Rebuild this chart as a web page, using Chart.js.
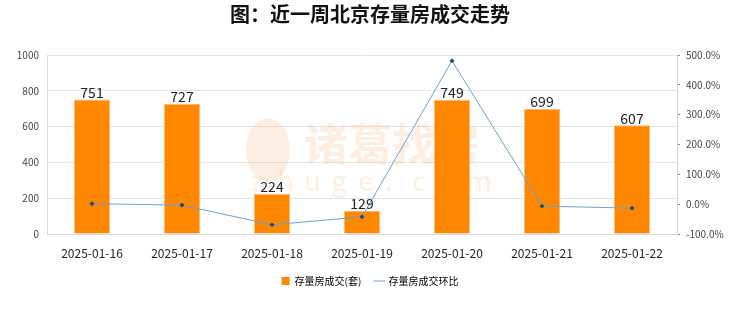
<!DOCTYPE html>
<html><head><meta charset="utf-8">
<script src="https://cdn.jsdelivr.net/npm/chart.js@4"></script>
<style>html,body{margin:0;padding:0;background:#fff}#wrap{width:740px;height:312px}</style>
</head><body><div id="wrap"><canvas id="c" width="740" height="312"></canvas></div>
<script>
const categories = ['2025-01-16','2025-01-17','2025-01-18','2025-01-19','2025-01-20','2025-01-21','2025-01-22'];
const volumes = [751, 727, 224, 129, 749, 699, 607];
const ringRatio = [1.5, -3.2, -69.2, -42.4, 480.6, -6.7, -13.2];
const leftTicks = [0, 200, 400, 600, 800, 1000];
const rightTicks = [-100, 0, 100, 200, 300, 400, 500];
const titleText = '图：近一周北京存量房成交走势';
const seriesNames = ['存量房成交(套)', '存量房成交环比'];

const FONT = '"Noto Sans CJK SC", "Noto Sans", sans-serif';

const watermark = {
  id: 'watermark',
  beforeDatasetsDraw(chart) {
    const ctx = chart.ctx;
    ctx.save();
    ctx.fillStyle = 'rgba(245,170,120,0.2)';
    ctx.font = 'bold 44px ' + FONT;
    ctx.textBaseline = 'middle';
    ctx.textAlign = 'left';
    ctx.fillText('诸葛找房', 304, 144);
    ctx.font = '28px ' + FONT;
    const letters = 'zhuge.com'.split('');
    letters.forEach((l, i) => ctx.fillText(l, 250 + i * 27, 180));
    ctx.beginPath();
    ctx.ellipse(268, 150, 22, 32, 0, 0, Math.PI * 2);
    ctx.fill();
    ctx.restore();
  }
};

const barLabels = {
  id: 'barLabels',
  afterDatasetsDraw(chart) {
    const ctx = chart.ctx;
    const meta = chart.getDatasetMeta(1);
    ctx.save();
    ctx.fillStyle = '#222';
    ctx.font = '14px ' + FONT;
    ctx.textAlign = 'center';
    ctx.textBaseline = 'bottom';
    meta.data.forEach((bar, i) => {
      ctx.fillText(String(volumes[i]), bar.x, bar.y);
    });
    ctx.restore();
  }
};

new Chart(document.getElementById('c'), {
  data: {
    labels: categories,
    datasets: [
      {
        type: 'line', label: seriesNames[1], data: ringRatio, yAxisID: 'y1',
        borderColor: '#6f9fcf', borderWidth: 1, backgroundColor: '#1f4e79',
        pointRadius: 2, pointStyle: 'rectRot', pointBackgroundColor: '#1f4e79', pointBorderColor: '#1f4e79',
        tension: 0, order: 0
      },
      {
        type: 'bar', label: seriesNames[0], data: volumes, yAxisID: 'y',
        backgroundColor: '#ff8800', borderColor: '#ffb870', borderWidth: {top: 1, left: 1, right: 1, bottom: 0},
        barPercentage: 0.4, categoryPercentage: 1.0, order: 1
      }
    ]
  },
  options: {
    responsive: false, animation: false,
    layout: { padding: { left: 0, right: 0, top: 0, bottom: 16 } },
    plugins: {
      title: { display: true, text: titleText, font: { family: FONT, size: 20, weight: 'bold' }, color: '#111', padding: { top: 2, bottom: 29 } },
      legend: {
        position: 'bottom',
        labels: {
          font: { family: FONT, size: 10 }, color: '#222', boxWidth: 8, boxHeight: 8, padding: 14,
          usePointStyle: true,
          generateLabels(chart) {
            return [
              { text: seriesNames[0], fillStyle: '#ff8800', strokeStyle: '#ff8800', lineWidth: 0, pointStyle: 'rect', datasetIndex: 1 },
              { text: seriesNames[1], fillStyle: '#1f4e79', strokeStyle: '#6f9fcf', lineWidth: 1, pointStyle: 'line', datasetIndex: 0 }
            ];
          }
        }
      },
      tooltip: { enabled: false }
    },
    scales: {
      x: {
        grid: { display: false },
        border: { color: '#d9d9d9' },
        ticks: { font: { family: FONT, size: 12 }, color: '#222', padding: 4, maxRotation: 0 },
        afterFit(s) { s.height = 28; }
      },
      y: {
        position: 'left', min: 0, max: 1000,
        afterBuildTicks(s) { s.ticks = leftTicks.map(v => ({ value: v })); },
        grid: { color: '#e4e4e4', drawTicks: false },
        border: { color: '#d9d9d9' },
        ticks: { font: { family: FONT, size: 10 }, color: '#444', padding: 8, callback(v) { return String(v); } },
        afterFit(s) { s.width = 47; }
      },
      y1: {
        position: 'right', min: -100, max: 500,
        afterBuildTicks(s) { const t = []; for (let v = -100; v <= 500; v += 50) t.push({ value: v }); s.ticks = t; },
        grid: { drawOnChartArea: false, color: '#888', tickLength: 3 },
        border: { color: '#d9d9d9' },
        ticks: {
          font: { family: FONT, size: 10 }, color: '#444', padding: 6,
          callback(v) { return rightTicks.includes(v) ? v.toFixed(1) + '%' : ''; }
        },
        afterFit(s) { s.width = 63; }
      }
    }
  },
  plugins: [watermark, barLabels]
});
</script>
</body></html>
